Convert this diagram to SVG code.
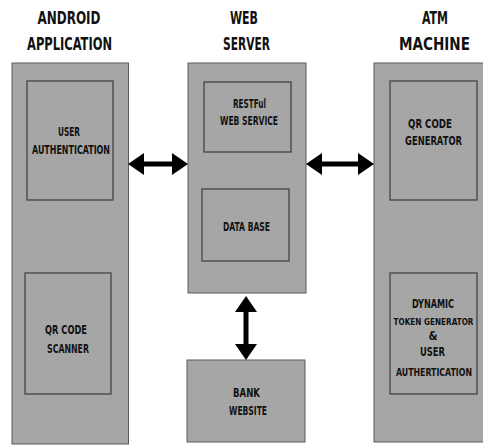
<svg xmlns="http://www.w3.org/2000/svg" width="483" height="445" viewBox="0 0 483 445">
<style>
.col{fill:#a6a6a6;stroke:#5a5a5a;stroke-width:1}
.box{fill:#a6a6a6;stroke:#3c3c3c;stroke-width:1.2}
.t{font-family:"DejaVu Sans Condensed","DejaVu Sans","Liberation Sans",sans-serif;font-weight:bold;fill:#111;text-anchor:middle}
.h{font-size:18px}
.s{font-size:11.5px}
.n{font-size:10px}
.m{font-size:8.8px}
.arr{fill:#000}
</style>
<rect width="483" height="445" fill="#fff"/>
<g id="android">
<text class="t h" x="69" y="24" textLength="63" lengthAdjust="spacingAndGlyphs">ANDROID</text>
<text class="t h" x="69.5" y="50" textLength="85" lengthAdjust="spacingAndGlyphs">APPLICATION</text>
<rect class="col" x="12" y="63" width="116.5" height="381"/>
</g>
<g id="user-auth">
<rect class="box" x="27" y="81" width="86" height="119"/>
<text class="t s" x="69" y="136" textLength="22" lengthAdjust="spacingAndGlyphs">USER</text>
<text class="t s" x="71" y="154" textLength="78" lengthAdjust="spacingAndGlyphs">AUTHENTICATION</text>
</g>
<g id="qr-scanner">
<rect class="box" x="25" y="273" width="86" height="121"/>
<text class="t s" x="66" y="334" textLength="42" lengthAdjust="spacingAndGlyphs">QR CODE</text>
<text class="t s" x="68" y="353" textLength="42" lengthAdjust="spacingAndGlyphs">SCANNER</text>
</g>
<g id="web-server">
<text class="t h" x="244" y="24" textLength="28" lengthAdjust="spacingAndGlyphs">WEB</text>
<text class="t h" x="246.5" y="50" textLength="47" lengthAdjust="spacingAndGlyphs">SERVER</text>
<rect class="col" x="188" y="63" width="118" height="230"/>
</g>
<g id="restful">
<rect class="box" x="204" y="82" width="87" height="70"/>
<text class="t s" x="249.5" y="108" textLength="33" lengthAdjust="spacingAndGlyphs">RESTFul</text>
<text class="t s" x="249" y="125" textLength="58" lengthAdjust="spacingAndGlyphs">WEB SERVICE</text>
</g>
<g id="database">
<rect class="box" x="202" y="189" width="87" height="72"/>
<text class="t s" x="246.5" y="231" textLength="47" lengthAdjust="spacingAndGlyphs">DATA BASE</text>
</g>
<g id="bank">
<rect class="col" x="187" y="360" width="118" height="82"/>
<text class="t s" x="246.5" y="397" textLength="27" lengthAdjust="spacingAndGlyphs">BANK</text>
<text class="t s" x="248" y="415" textLength="38" lengthAdjust="spacingAndGlyphs">WEBSITE</text>
</g>
<g id="atm">
<text class="t h" x="435" y="24" textLength="26" lengthAdjust="spacingAndGlyphs">ATM</text>
<text class="t h" x="434.5" y="50" textLength="71" lengthAdjust="spacingAndGlyphs">MACHINE</text>
<rect class="col" x="374" y="63" width="115" height="379"/>
</g>
<g id="qr-generator">
<rect class="box" x="390" y="81" width="87" height="119"/>
<text class="t s" x="430" y="128" textLength="44" lengthAdjust="spacingAndGlyphs">QR CODE</text>
<text class="t s" x="433.5" y="145" textLength="57" lengthAdjust="spacingAndGlyphs">GENERATOR</text>
</g>
<g id="token">
<rect class="box" x="390" y="273" width="87" height="121"/>
<text class="t s" x="433" y="308" textLength="42" lengthAdjust="spacingAndGlyphs">DYNAMIC</text>
<text class="t m" x="433.5" y="325" textLength="80" lengthAdjust="spacingAndGlyphs">TOKEN GENERATOR</text>
<text class="t s" x="433" y="340">&amp;</text>
<text class="t s" x="432.5" y="356" textLength="25" lengthAdjust="spacingAndGlyphs">USER</text>
<text class="t n" x="434" y="376" textLength="76" lengthAdjust="spacingAndGlyphs">AUTHERTICATION</text>
</g>
<g id="connectors">
<polygon class="arr" points="128,164 144,153 144,161.5 172,161.5 172,153 188,164 172,175 172,166.5 144,166.5 144,175"/>
<polygon class="arr" points="306,164 322,153 322,161.5 358,161.5 358,153 374,164 358,175 358,166.5 322,166.5 322,175"/>
<polygon class="arr" points="246,296 235,312 243.5,312 243.5,344 235,344 246,360 257,344 248.5,344 248.5,312 257,312"/>
</g>
</svg>
